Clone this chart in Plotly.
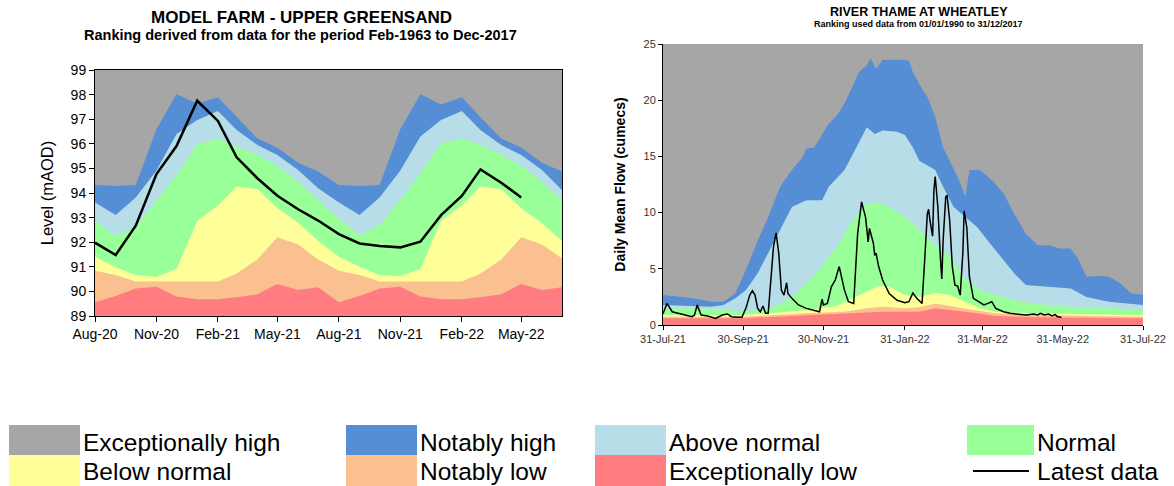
import plotly.graph_objects as go

# ---------------- Left chart: MODEL FARM - UPPER GREENSAND (monthly) ----------------
farm_months = ["2020-08-01", "2020-09-01", "2020-10-01", "2020-11-01", "2020-12-01", "2021-01-01",
               "2021-02-01", "2021-03-01", "2021-04-01", "2021-05-01", "2021-06-01", "2021-07-01",
               "2021-08-01", "2021-09-01", "2021-10-01", "2021-11-01", "2021-12-01", "2022-01-01",
               "2022-02-01", "2022-03-01", "2022-04-01", "2022-05-01", "2022-06-01", "2022-07-01"]
# upper boundary of each ranking band (mAOD)
farm_exc_low = [89.56, 89.81, 90.12, 90.19, 89.79, 89.68, 89.68, 89.76, 89.88, 90.30, 90.06, 90.17,
                89.56, 89.81, 90.12, 90.19, 89.79, 89.68, 89.68, 89.76, 89.88, 90.30, 90.06, 90.17]
farm_not_low = [90.84, 90.67, 90.40, 90.40, 90.40, 90.40, 90.40, 90.73, 91.30, 92.20, 91.91, 91.30,
                90.84, 90.67, 90.40, 90.40, 90.40, 90.40, 90.40, 90.73, 91.30, 92.20, 91.91, 91.34]
farm_below = [91.41, 90.98, 90.67, 90.60, 90.91, 92.86, 93.49, 94.26, 94.16, 93.38, 92.79, 92.05,
              91.41, 91.00, 90.67, 90.62, 90.91, 92.86, 93.49, 94.26, 94.16, 93.38, 92.77, 92.05]
farm_normal = [92.85, 92.27, 92.63, 93.72, 94.73, 95.99, 96.22, 95.88, 95.57, 95.10, 94.46, 93.72,
               92.95, 92.27, 92.70, 93.72, 94.80, 96.02, 96.22, 95.95, 95.57, 95.10, 94.46, 93.65]
farm_above = [93.61, 93.11, 93.82, 94.91, 96.40, 96.97, 97.33, 96.56, 95.95, 95.54, 94.93, 94.19,
              93.61, 93.11, 93.82, 94.91, 96.30, 96.97, 97.33, 96.56, 95.95, 95.54, 94.93, 94.12]
farm_not_high = [94.33, 94.28, 94.33, 96.59, 98.01, 97.64, 97.89, 97.08, 96.22, 95.84, 95.23, 94.87,
                 94.33, 94.28, 94.33, 96.59, 98.01, 97.60, 97.89, 97.08, 96.22, 95.84, 95.23, 94.87]
farm_latest_months = farm_months[:22]
farm_latest = [91.98, 91.48, 92.67, 94.77, 95.91, 97.75, 96.93, 95.45, 94.60, 93.89, 93.34, 92.88,
               92.33, 91.95, 91.85, 91.79, 92.02, 93.10, 93.88, 94.96, 94.42, 93.82]
farm_tickvals = ["2020-08-01", "2020-11-01", "2021-02-01", "2021-05-01",
                 "2021-08-01", "2021-11-01", "2022-02-01", "2022-05-01"]
farm_ticktext = ["Aug-20", "Nov-20", "Feb-21", "May-21", "Aug-21", "Nov-21", "Feb-22", "May-22"]

# ---------------- Right chart: RIVER THAME AT WHEATLEY (daily) ----------------
thame_not_high_dates = ["2021-07-31", "2021-08-23", "2021-09-06", "2021-09-15", "2021-09-24", "2021-10-02",
                        "2021-10-11", "2021-10-19", "2021-10-28", "2021-11-06", "2021-11-14", "2021-11-17",
                        "2021-11-23", "2021-11-29", "2021-12-04", "2021-12-10", "2021-12-16", "2021-12-22",
                        "2021-12-27", "2022-01-02", "2022-01-05", "2022-01-09", "2022-01-14", "2022-01-31",
                        "2022-02-03", "2022-02-06", "2022-02-11", "2022-02-17", "2022-02-23", "2022-03-01",
                        "2022-03-06", "2022-03-12", "2022-03-18", "2022-03-21", "2022-03-29", "2022-04-07",
                        "2022-04-16", "2022-04-24", "2022-05-03", "2022-05-12", "2022-05-20", "2022-05-29",
                        "2022-06-06", "2022-06-12", "2022-06-18", "2022-06-27", "2022-07-05", "2022-07-14",
                        "2022-07-22", "2022-07-31"]
thame_not_high = [2.66, 2.37, 2.07, 2.07, 2.8, 4.9, 7.5, 9.6, 12.3, 13.8, 14.9, 15.7,
                  15.8, 17.0, 17.9, 18.6, 19.7, 21.2, 22.5, 23.1, 23.7, 22.8, 23.6, 23.6,
                  23.5, 22.5, 21.4, 20.3, 18.5, 15.8, 14.6, 13.2, 11.4, 13.8, 13.8, 12.9,
                  11.7, 9.9, 8.1, 7.1, 7.1, 6.8, 6.8, 5.8, 4.3, 4.35, 4.3, 3.7, 2.8, 2.7]

thame_above_dates = ["2021-07-31", "2021-08-23", "2021-09-06", "2021-09-15", "2021-09-24", "2021-10-02",
                     "2021-10-11", "2021-10-19", "2021-10-28", "2021-11-06", "2021-11-17", "2021-11-29",
                     "2021-12-04", "2021-12-16", "2021-12-25", "2022-01-02", "2022-01-08", "2022-01-14",
                     "2022-01-25", "2022-01-31", "2022-02-06", "2022-02-11", "2022-02-23", "2022-03-01",
                     "2022-03-09", "2022-03-18", "2022-03-27", "2022-04-04", "2022-04-16", "2022-04-24",
                     "2022-05-03", "2022-05-20", "2022-06-06", "2022-06-18", "2022-07-05", "2022-07-31"]
thame_above = [1.78, 1.69, 1.63, 1.78, 2.37, 3.1, 4.6, 6.4, 8.4, 10.5, 11.1, 11.1,
               12.3, 13.8, 15.8, 17.6, 17.0, 17.3, 17.2, 16.9, 15.8, 14.6, 13.8, 12.3,
               10.5, 9.6, 8.7, 7.5, 5.8, 4.6, 3.55, 3.4, 3.25, 2.5, 2.07, 1.78]

thame_normal_dates = ["2021-07-31", "2021-08-23", "2021-09-15", "2021-09-29", "2021-10-14", "2021-10-25",
                      "2021-11-06", "2021-11-17", "2021-11-29", "2021-12-10", "2021-12-22", "2022-01-02",
                      "2022-01-11", "2022-01-19", "2022-01-31", "2022-02-11", "2022-02-23", "2022-03-06",
                      "2022-03-18", "2022-03-29", "2022-04-10", "2022-04-24", "2022-05-09", "2022-06-06",
                      "2022-07-05", "2022-07-31"]
thame_normal = [1.48, 1.48, 1.39, 1.18, 1.33, 1.7, 2.5, 3.7, 5.2, 6.95, 9.3, 10.8,
                10.9, 10.5, 9.6, 8.4, 7.1, 6.1, 4.1, 3.1, 2.66, 2.2, 1.9, 1.63, 1.48, 1.39]

thame_below_dates = ["2021-07-31", "2021-09-29", "2021-10-25", "2021-11-17", "2021-12-10", "2021-12-27",
                     "2022-01-11", "2022-01-19", "2022-01-31", "2022-02-11", "2022-02-23", "2022-03-06",
                     "2022-03-18", "2022-03-29", "2022-04-10", "2022-05-09", "2022-06-06", "2022-07-31"]
thame_below = [0.89, 0.89, 1.1, 1.33, 1.69, 2.66, 3.46, 3.4, 2.66, 2.5, 2.87, 2.66,
               2.07, 1.48, 1.18, 1.04, 0.98, 0.89]

thame_not_low_dates = ["2021-07-31", "2021-09-29", "2021-11-17", "2021-12-16", "2022-01-02", "2022-01-14",
                       "2022-01-31", "2022-02-11", "2022-02-23", "2022-03-06", "2022-03-24", "2022-04-10",
                       "2022-05-09", "2022-07-31"]
thame_not_low = [0.74, 0.74, 1.04, 1.18, 1.48, 1.63, 1.48, 1.57, 1.92, 1.69, 1.33, 1.04, 0.89, 0.74]

thame_exc_low_dates = ["2021-07-31", "2021-09-29", "2021-11-06", "2021-12-16", "2022-01-14", "2022-02-11",
                       "2022-02-23", "2022-03-06", "2022-03-24", "2022-04-10", "2022-05-09", "2022-07-31"]
thame_exc_low = [0.59, 0.59, 0.8, 1.04, 1.18, 1.18, 1.48, 1.33, 1.1, 0.8, 0.68, 0.59]

thame_latest_dates = ["2021-07-31", "2021-08-03", "2021-08-07", "2021-08-12", "2021-08-17", "2021-08-22",
                      "2021-08-24", "2021-08-26", "2021-08-29", "2021-09-03", "2021-09-09", "2021-09-14",
                      "2021-09-18", "2021-09-21", "2021-09-26", "2021-09-29", "2021-10-02", "2021-10-05",
                      "2021-10-07", "2021-10-09", "2021-10-11", "2021-10-13", "2021-10-15", "2021-10-17",
                      "2021-10-19", "2021-10-21", "2021-10-23", "2021-10-25", "2021-10-27", "2021-10-29",
                      "2021-10-31", "2021-11-02", "2021-11-03", "2021-11-06", "2021-11-11", "2021-11-17",
                      "2021-11-23", "2021-11-27", "2021-11-29", "2021-11-30", "2021-12-03", "2021-12-06",
                      "2021-12-09", "2021-12-12", "2021-12-16", "2021-12-19", "2021-12-23", "2021-12-26",
                      "2021-12-29", "2022-01-01", "2022-01-03", "2022-01-04", "2022-01-07", "2022-01-08",
                      "2022-01-09", "2022-01-11", "2022-01-14", "2022-01-19", "2022-01-25", "2022-01-31",
                      "2022-02-03", "2022-02-06", "2022-02-09", "2022-02-13", "2022-02-15", "2022-02-17",
                      "2022-02-18", "2022-02-19", "2022-02-21", "2022-02-22", "2022-02-23", "2022-02-25",
                      "2022-02-27", "2022-02-28", "2022-03-01", "2022-03-03", "2022-03-04", "2022-03-06",
                      "2022-03-08", "2022-03-10", "2022-03-12", "2022-03-14", "2022-03-16", "2022-03-17",
                      "2022-03-19", "2022-03-21", "2022-03-24", "2022-03-28", "2022-04-01", "2022-04-04",
                      "2022-04-07", "2022-04-10", "2022-04-16", "2022-04-21", "2022-04-27", "2022-05-03",
                      "2022-05-09", "2022-05-12", "2022-05-14", "2022-05-17", "2022-05-20", "2022-05-23",
                      "2022-05-25", "2022-05-27", "2022-05-30"]
thame_latest = [1.0, 1.92, 1.18, 1.04, 0.89, 0.74, 0.89, 1.78, 0.89, 0.8, 0.59, 0.89,
                0.98, 0.74, 0.68, 0.68, 1.48, 2.66, 3.05, 2.66, 1.48, 1.18, 1.69, 1.04,
                1.04, 4.0, 6.95, 8.2, 6.4, 3.1, 2.66, 3.76, 2.8, 2.37, 1.78, 1.48,
                1.33, 1.18, 2.3, 1.78, 1.92, 3.4, 4.0, 5.2, 3.1, 2.07, 1.92, 8.14,
                10.95, 9.6, 7.4, 8.6, 7.25, 6.2, 6.4, 5.2, 4.0, 2.8, 2.2, 1.98,
                2.07, 2.85, 2.37, 1.92, 5.8, 9.9, 10.3, 9.3, 7.9, 12.0, 13.2, 10.5,
                5.8, 4.1, 7.5, 11.4, 11.55, 9.3, 5.2, 3.55, 3.46, 2.66, 6.4, 10.15,
                8.7, 4.3, 2.37, 2.07, 1.78, 1.92, 2.07, 1.48, 1.18, 1.04, 0.95, 0.89,
                0.98, 0.89, 1.04, 0.89, 0.98, 0.8, 0.95, 0.74, 0.68]
thame_tickvals = ["2021-07-31", "2021-09-30", "2021-11-30", "2022-01-31", "2022-03-31", "2022-05-31", "2022-07-31"]
thame_ticktext = ["31-Jul-21", "30-Sep-21", "30-Nov-21", "31-Jan-22", "31-Mar-22", "31-May-22", "31-Jul-22"]

# ---------------- styling ----------------
C_EXC_HIGH = "#A6A6A6"
C_NOT_HIGH = "#558ED5"
C_ABOVE = "#B7DDE8"
C_NORMAL = "#99FF99"
C_BELOW = "#FFFF99"
C_NOT_LOW = "#FAC090"
C_EXC_LOW = "#FF7C80"
FONT = "Liberation Sans, Arial, sans-serif"

fig = go.Figure()

farm_bands = [(farm_not_high, C_NOT_HIGH), (farm_above, C_ABOVE), (farm_normal, C_NORMAL),
              (farm_below, C_BELOW), (farm_not_low, C_NOT_LOW), (farm_exc_low, C_EXC_LOW)]
for vals, col in farm_bands:
    fig.add_trace(go.Scatter(x=farm_months, y=vals, mode="lines", line=dict(width=0, color=col),
                             fill="tozeroy", fillcolor=col, showlegend=False, hoverinfo="skip",
                             xaxis="x", yaxis="y"))
fig.add_trace(go.Scatter(x=farm_latest_months, y=farm_latest, mode="lines",
                         line=dict(color="black", width=2.5), showlegend=False, xaxis="x", yaxis="y"))

thame_bands = [(thame_not_high_dates, thame_not_high, C_NOT_HIGH), (thame_above_dates, thame_above, C_ABOVE),
               (thame_normal_dates, thame_normal, C_NORMAL), (thame_below_dates, thame_below, C_BELOW),
               (thame_not_low_dates, thame_not_low, C_NOT_LOW), (thame_exc_low_dates, thame_exc_low, C_EXC_LOW)]
for xs, vals, col in thame_bands:
    fig.add_trace(go.Scatter(x=xs, y=vals, mode="lines", line=dict(width=0, color=col),
                             fill="tozeroy", fillcolor=col, showlegend=False, hoverinfo="skip",
                             xaxis="x2", yaxis="y2"))
fig.add_trace(go.Scatter(x=thame_latest_dates, y=thame_latest, mode="lines",
                         line=dict(color="black", width=1.5), showlegend=False, xaxis="x2", yaxis="y2"))

W, H = 1174, 486

def px(x):
    return x / W

def py(y):
    return 1 - y / H

fig.update_layout(
    width=W, height=H, margin=dict(l=0, r=0, t=0, b=0, pad=0), autosize=False,
    paper_bgcolor="white", plot_bgcolor=C_EXC_HIGH,
    font=dict(family=FONT, color="black"),
    xaxis=dict(domain=[px(95), px(562)], anchor="y", type="date", automargin=False,
               range=["2020-08-01", "2022-07-01"], tickvals=farm_tickvals, ticktext=farm_ticktext,
               showgrid=False, zeroline=False, showline=True, linecolor="black", linewidth=1, mirror=True,
               ticks="outside", ticklen=5, tickcolor="black", tickfont=dict(size=14)),
    yaxis=dict(domain=[py(316), py(70)], anchor="x", range=[89, 99], dtick=1, automargin=False,
               showgrid=False, zeroline=False, showline=True, linecolor="black", linewidth=1, mirror=True,
               ticks="outside", ticklen=5, tickcolor="black", tickfont=dict(size=14),
               title=dict(text="Level (mAOD)", font=dict(size=16.5), standoff=12)),
    xaxis2=dict(domain=[px(663), px(1143)], anchor="y2", type="date", automargin=False,
                range=["2021-07-31", "2022-07-31"], tickvals=thame_tickvals, ticktext=thame_ticktext,
                showgrid=False, zeroline=False, showline=True, linecolor="black", linewidth=1,
                ticks="outside", ticklen=4, tickcolor="black", tickfont=dict(size=11, color="#333333")),
    yaxis2=dict(domain=[py(325), py(44)], anchor="x2", range=[0, 25], dtick=5, automargin=False,
                showgrid=False, zeroline=False, showline=True, linecolor="black", linewidth=1,
                ticks="outside", ticklen=4, tickcolor="black", tickfont=dict(size=11, color="#333333"),
                title=dict(text="<b>Daily Mean Flow (cumecs)</b>", font=dict(size=14), standoff=14)),
)

annotations = [
    dict(text="<b>MODEL FARM - UPPER GREENSAND</b>", x=px(301), y=py(17), font=dict(size=17)),
    dict(text="<b>Ranking derived from data for the period Feb-1963 to Dec-2017</b>", x=px(300), y=py(35),
         font=dict(size=14.5)),
    dict(text="<b>RIVER THAME AT WHEATLEY</b>", x=px(919), y=py(12), font=dict(size=12.5)),
    dict(text="<b>Ranking used data from 01/01/1990 to 31/12/2017</b>", x=px(918), y=py(24), font=dict(size=9)),
]
for a in annotations:
    a.update(xref="paper", yref="paper", showarrow=False, xanchor="center", yanchor="middle")
fig.update_layout(annotations=annotations)

# manual legend
legend_items = [
    ("Exceptionally high", C_EXC_HIGH, 9, 80, 0),
    ("Below normal", C_BELOW, 9, 80, 1),
    ("Notably high", C_NOT_HIGH, 346, 417, 0),
    ("Notably low", C_NOT_LOW, 346, 417, 1),
    ("Above normal", C_ABOVE, 595, 666, 0),
    ("Exceptionally low", C_EXC_LOW, 595, 666, 1),
    ("Normal", C_NORMAL, 967, 1034, 0),
]
row_top = [425, 455]
row_bot = [455, 487]
row_mid = [442, 471]
for label, col, x0, x1, r in legend_items:
    fig.add_shape(type="rect", xref="paper", yref="paper", x0=px(x0), x1=px(x1),
                  y0=py(row_bot[r]), y1=py(row_top[r]), fillcolor=col, line=dict(width=0), layer="above")
    fig.add_annotation(text=label, xref="paper", yref="paper", x=px(x1 + 1), y=py(row_mid[r]),
                       xanchor="left", yanchor="middle", showarrow=False, font=dict(size=24.5))
fig.add_shape(type="line", xref="paper", yref="paper", x0=px(973), x1=px(1029), y0=py(471), y1=py(471),
              line=dict(color="black", width=2))
fig.add_annotation(text="Latest data", xref="paper", yref="paper", x=px(1035), y=py(471),
                   xanchor="left", yanchor="middle", showarrow=False, font=dict(size=24.5))

fig.write_html(
    "out.html", config={"displayModeBar": False},
    post_script="document.body.style.margin='0';document.body.style.padding='0';"
                "document.documentElement.style.overflow='hidden';document.body.style.overflow='hidden';",
)
